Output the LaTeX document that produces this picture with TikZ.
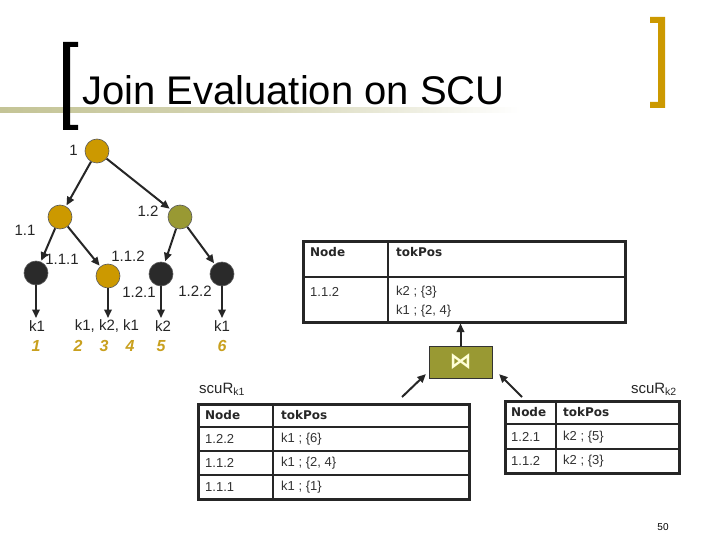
\documentclass[tikz,border=0pt]{standalone}
\usepackage{fontspec}
\setmainfont{Liberation Sans}
\newfontfamily\dvs{DejaVu Sans}
\usetikzlibrary{arrows.meta,calc}
\definecolor{goldc}{RGB}{204,153,0}
\definecolor{olivec}{RGB}{153,153,51}
\definecolor{darkn}{RGB}{42,42,42}
\definecolor{khaki}{RGB}{196,196,150}
\definecolor{numgold}{RGB}{201,160,30}
\definecolor{cream}{RGB}{255,255,215}
\begin{document}
\begin{tikzpicture}[x=1pt,y=-1pt,
 tn/.style={circle,minimum size=24pt,inner sep=0pt,draw=black!65,line width=0.6pt},
 goldn/.style={tn,fill=goldc},
 oliven/.style={tn,fill=olivec},
 darknd/.style={tn,fill=darkn},
 lbl/.style={font=\fontsize{15}{18}\selectfont,inner sep=0pt,text=black!85},
 arr/.style={draw=black!85,line width=2pt,shorten >=1pt,-{Triangle[length=8.5pt,width=7.5pt]}},
 tbox/.style={draw=black!85,line width=2.5pt,inner sep=0pt,anchor=north west},
 tl/.style={draw=black!85,line width=2.5pt},
 tt/.style={font=\fontsize{13}{15}\selectfont,anchor=west,inner sep=0pt,text=black!80},
 th/.style={font=\dvs\bfseries\fontsize{12}{14}\selectfont,anchor=west,inner sep=0pt,text=black!85},
 num/.style={font=\bfseries\itshape\fontsize{16}{18}\selectfont,text=numgold,inner sep=0pt},
]
\useasboundingbox[fill=white] (0,0) rectangle (720,540);
% title decorations
\shade[left color=khaki,right color=white,middle color=khaki!70] (0,108) rectangle (520,113);
\fill[black] (63,42) -- (78,42) -- (78,47) -- (70,47) -- (70,125) -- (78,125) -- (78,130) -- (63,130) -- cycle;
\fill[goldc] (650,17) -- (665,17) -- (665,108) -- (650,108) -- (650,102) -- (658,102) -- (658,23) -- (650,23) -- cycle;
\node[anchor=base west,inner sep=0pt,font=\fontsize{40}{44}\selectfont] (title) at (82,105) {Join Evaluation on SCU};
% tree
\node[goldn] (n1) at (97,151) {};
\node[goldn] (n11) at (60,217) {};
\node[oliven] (n12) at (180,217) {};
\node[darknd] (n111) at (36,273) {};
\node[goldn] (n112) at (108,276) {};
\node[darknd] (n121) at (161,274) {};
\node[darknd] (n122) at (222,274) {};
\draw[arr] (n1) -- (n11);
\draw[arr] (n1) -- (n12);
\draw[arr] (n11) -- (n111);
\draw[arr] (n11) -- (n112);
\draw[arr] (n12) -- (n121);
\draw[arr] (n12) -- (n122);
\coordinate (e111) at (36,319);
\coordinate (e112) at (108,319);
\coordinate (e121) at (161,319);
\coordinate (e122) at (222,319);
\draw[arr] (n111) -- (e111);
\draw[arr] (n112) -- (e112);
\draw[arr] (n121) -- (e121);
\draw[arr] (n122) -- (e122);
\node[lbl,anchor=east] (l1) at (78,150) {1};
\node[lbl] (l12) at (148,211) {1.2};
\node[lbl] (l11) at (25,230) {1.1};
\node[lbl] (l111) at (62,259) {1.1.1};
\node[lbl] (l112) at (128,256) {1.1.2};
\node[lbl] (l121) at (139,292) {1.2.1};
\node[lbl] (l122) at (195,291) {1.2.2};
\node[lbl] (ka) at (37,326) {k1};
\node[lbl] (kb) at (107,326) {k1, k2, k1};
\node[lbl] (kc) at (163,326) {k2};
\node[lbl] (kd) at (222,326) {k1};
\node[num] (p1) at (36,346) {1};
\node[num] (p2) at (78,346) {2};
\node[num] (p3) at (104,346) {3};
\node[num] (p4) at (130,346) {4};
\node[num] (p5) at (161,346) {5};
\node[num] (p6) at (222,346) {6};
% result table
\node[tbox,minimum width=322pt,minimum height=81pt] (T1) at (302,240) {};
\draw[tl] (388,240) -- (388,321);
\draw[tl] (302,277) -- (624,277);
\node[th] (t1h1) at (310,252) {Node};
\node[th] (t1h2) at (396,252) {tokPos};
\node[tt] (t1a) at (310,292) {1.1.2};
\node[tt] (t1b) at (396,292) {k2 ; \{3\}};
\node[tt] (t1c) at (396,311) {k1 ; \{2, 4\}};
% join box
\node[draw=black!80,fill=olivec,minimum width=63pt,minimum height=32pt,inner sep=0pt,line width=0.8pt] (J) at (460.5,362) {\dvs\bfseries\fontsize{22}{22}\selectfont\textcolor{cream}{⋈}};
\draw[arr,shorten >=0pt] (J.north) -- (J.north |- T1.south);
\coordinate (a1) at (402,397);
\coordinate (a1e) at ($(J.south west)+(-2,-5)$);
\coordinate (a2) at (522,397);
\coordinate (a2e) at ($(J.south east)+(6,-5)$);
\draw[arr] (a1) -- (a1e);
\draw[arr] (a2) -- (a2e);
\node[lbl,anchor=base west] (s1) at (199,393) {scuR\textsubscript{k1}};
\node[lbl,anchor=base east] (s2) at (677,393) {scuR\textsubscript{k2}};
% table scuR k1
\node[tbox,minimum width=271pt,minimum height=95pt] (T2) at (197,403) {};
\draw[tl] (273,403) -- (273,498);
\draw[tl] (197,427) -- (468,427);
\draw[tl] (197,451) -- (468,451);
\draw[tl] (197,475) -- (468,475);
\node[th] (t2h1) at (205,415) {Node};
\node[th] (t2h2) at (281,415) {tokPos};
\node[tt] (t2a) at (205,439) {1.2.2};
\node[tt] (t2b) at (281,439) {k1 ; \{6\}};
\node[tt] (t2c) at (205,463) {1.1.2};
\node[tt] (t2d) at (281,463) {k1 ; \{2, 4\}};
\node[tt] (t2e) at (205,487) {1.1.1};
\node[tt] (t2f) at (281,487) {k1 ; \{1\}};
% table scuR k2
\node[tbox,minimum width=174pt,minimum height=72pt] (T3) at (504,400) {};
\draw[tl] (556,400) -- (556,472);
\draw[tl] (504,424) -- (678,424);
\draw[tl] (504,449) -- (678,449);
\node[th] (t3h1) at (511,412) {Node};
\node[th] (t3h2) at (563,412) {tokPos};
\node[tt] (t3a) at (511,437) {1.2.1};
\node[tt] (t3b) at (563,437) {k2 ; \{5\}};
\node[tt] (t3c) at (511,461) {1.1.2};
\node[tt] (t3d) at (563,461) {k2 ; \{3\}};
\node[font=\fontsize{10}{12}\selectfont,inner sep=0pt] (pg) at (663,527) {50};
\end{tikzpicture}
\end{document}
